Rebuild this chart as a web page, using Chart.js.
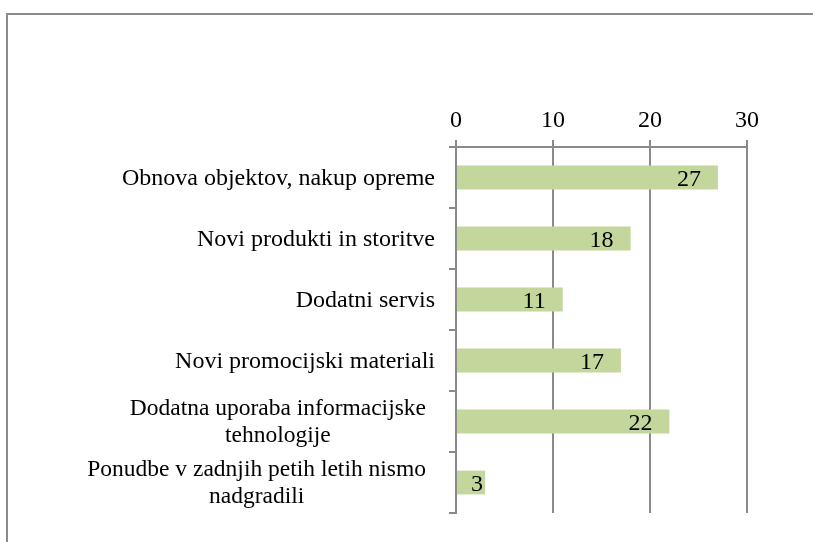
<!DOCTYPE html>
<html>
<head>
<meta charset="utf-8">
<script src="https://cdn.jsdelivr.net/npm/chart.js@4.4.1/dist/chart.umd.min.js"></script>
<style>
html,body{margin:0;padding:0;background:#fff;}
canvas{display:block;}
</style>
</head>
<body>
<canvas id="chart" width="813" height="542"></canvas>
<script>
// data
var categories = [
	['Obnova objektov, nakup opreme'],
	['Novi produkti in storitve'],
	['Dodatni servis'],
	['Novi promocijski materiali'],
	['Dodatna uporaba informacijske', 'tehnologije'],
	['Ponudbe v zadnjih petih letih nismo', 'nadgradili']
];
var values = [27, 18, 11, 17, 22, 3];
var xTicks = [0, 10, 20, 30];

var FONT = '"Liberation Serif", "Times New Roman", serif';
var GRID = '#8a8a8a';

// frame around the whole chart (only left and top edge visible)
var framePlugin = {
	id: 'frame',
	beforeDraw: function(chart){
		var c = chart.ctx;
		c.save();
		c.strokeStyle = GRID;
		c.lineWidth = 2;
		c.strokeRect(7, 14, chart.width + 20, chart.height + 20);
		c.restore();
	}
};

// category labels: single lines right aligned, wrapped ones centred as a block
var catLabels = {
	id: 'catLabels',
	afterDraw: function(chart){
		var c = chart.ctx;
		var y = chart.scales.y;
		var right = y.right - 21;
		c.save();
		c.fillStyle = '#000';
		c.textBaseline = 'middle';
		categories.forEach(function(lines, i){
			var cy = y.getPixelForTick(i) + 1;
			var lh = 27;
			if(lines.length == 1){
				c.font = '24px ' + FONT;
				c.textAlign = 'right';
				c.fillText(lines[0], right, cy);
			}else{
				c.font = '23.5px ' + FONT;
				var w = 0;
				lines.forEach(function(l){ w = Math.max(w, c.measureText(l).width); });
				var cx = right - 9 - w / 2;
				c.textAlign = 'center';
				lines.forEach(function(l, k){
					c.fillText(l, cx, cy + (k - (lines.length - 1) / 2) * lh);
				});
			}
		});
		c.restore();
	}
};

// value labels inside the end of each bar
var valueLabels = {
	id: 'valueLabels',
	afterDatasetsDraw: function(chart){
		var c = chart.ctx;
		var meta = chart.getDatasetMeta(0);
		var x0 = chart.scales.x.getPixelForValue(0);
		c.save();
		c.font = '24px ' + FONT;
		c.fillStyle = '#000';
		c.textAlign = 'right';
		c.textBaseline = 'middle';
		meta.data.forEach(function(bar, i){
			var txt = String(values[i]);
			var tw = c.measureText(txt).width;
			var bw = bar.x - x0;
			var off = Math.max(2, Math.min(17, bw - tw - 15));
			c.fillText(txt, bar.x - off, bar.y + 2);
		});
		c.restore();
	}
};

var ctx = document.getElementById('chart').getContext('2d');
var chart = new Chart(ctx, {
	type: 'bar',
	data: {
		labels: categories,
		datasets: [{
			data: values,
			backgroundColor: '#c3d69b',
			borderWidth: 0,
			categoryPercentage: 1,
			barPercentage: 0.39
		}]
	},
	options: {
		indexAxis: 'y',
		responsive: false,
		animation: false,
		layout: { padding: { left: 0, top: 0, right: 66, bottom: 29 } },
		plugins: { legend: { display: false }, tooltip: { enabled: false } },
		scales: {
			x: {
				position: 'top',
				min: xTicks[0],
				max: xTicks[xTicks.length - 1],
				afterBuildTicks: function(scale){
					scale.ticks = xTicks.map(function(v){ return { value: v }; });
				},
				afterFit: function(scale){ scale.height = 147; },
				grid: { color: GRID, lineWidth: 2, drawTicks: true, tickLength: 7, tickColor: GRID },
				border: { display: true, color: GRID, width: 2 },
				ticks: { color: '#000', font: { family: FONT, size: 24 }, padding: 5, maxRotation: 0 }
			},
			y: {
				afterFit: function(scale){ scale.width = 456; },
				grid: { drawOnChartArea: false, drawTicks: true, tickLength: 7, color: GRID, lineWidth: 2, offset: true },
				border: { display: true, color: GRID, width: 2 },
				ticks: { display: false }
			}
		}
	},
	plugins: [framePlugin, catLabels, valueLabels]
});
</script>
</body>
</html>
